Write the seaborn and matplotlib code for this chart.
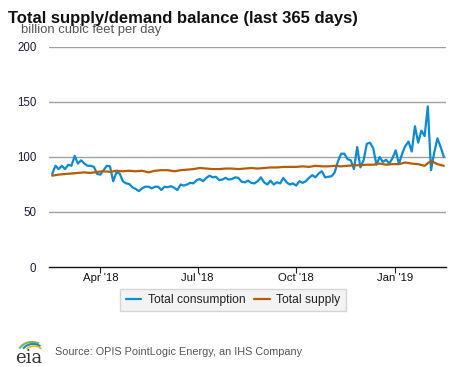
import numpy as np
import pandas as pd
import seaborn as sns
import matplotlib.pyplot as plt
import matplotlib.dates as mdates
from matplotlib.patches import Arc

# consumption, read every 3 days starting 2018-02-15 (bcf/d)
consumption = [84.5, 92, 89, 92, 89, 93, 92, 101, 94, 97,
               94, 92, 92, 91, 84.5, 84, 88, 92, 91.5, 78,
               86, 85, 78, 76, 75.5, 72.4, 71, 69, 71.5, 73,
               73, 71.5, 73, 73, 70, 73, 72.5, 73.5, 72, 70,
               75, 74, 75, 76.5, 76, 79, 80, 78, 81, 83,
               81.5, 82, 79, 79.5, 81, 79.5, 80, 81.5, 81, 77.5,
               77, 78.5, 76.5, 76, 78, 81.5, 77, 75, 78.5, 75,
               77, 76, 81, 77, 75, 76, 74, 78, 76.5, 78,
               81, 83.5, 81.5, 85, 87, 81.5, 82, 82.5, 86, 96,
               103, 103, 98, 97, 89, 109, 90.6, 97, 112, 113,
               108, 93, 100, 95.5, 97.5, 94, 99, 106, 93.6, 103,
               110, 114, 105, 128, 113, 124, 119, 146, 88, 104,
               117, 109, 100]

# supply, read every 6 days starting 2018-02-15 (bcf/d)
supply = [83, 84, 84.5, 85, 85.5, 86, 85.5, 86.5, 87, 86.5,
          87.5, 87, 87.5, 87, 87.5, 86, 87.5, 88, 88, 87,
          88, 88.5, 89, 90, 89.5, 89, 89, 89.5, 89.5, 89,
          89.5, 90, 89.5, 90, 90.5, 90.5, 91, 91, 91, 91.5,
          91, 92, 91.5, 91.5, 92, 91.5, 92, 92.5, 92.5, 93,
          93, 94, 93, 93.5, 93.5, 95, 94, 93.5, 92, 96.5,
          93.5, 92]

cons_dates = pd.date_range("2018-02-15", periods=len(consumption), freq="3D")
sup_dates = pd.date_range("2018-02-15", periods=len(supply), freq="6D")

df = pd.concat([
    pd.DataFrame({"date": cons_dates, "value": consumption, "series": "Total consumption"}),
    pd.DataFrame({"date": sup_dates, "value": supply, "series": "Total supply"}),
])

colors = {"Total consumption": "#0a8bd3", "Total supply": "#b65c06"}
y_ticks = [0, 50, 100, 150, 200]
x_ticks = ["2018-04-01", "2018-07-01", "2018-10-01", "2019-01-01"]
x_labels = ["Apr '18", "Jul '18", "Oct '18", "Jan '19"]

sns.set_style("white")
plt.rcParams['font.family'] = ['Liberation Sans', 'DejaVu Sans']

fig = plt.figure(figsize=(4.77, 3.67), dpi=100)
ax = fig.add_axes([49 / 477, 1 - 267 / 367, 397 / 477, 220 / 367])

sns.lineplot(data=df, x="date", y="value", hue="series", palette=colors,
             linewidth=1.6, ax=ax, legend=False)

ax.set_ylim(0, 200)
ax.set_xlim(pd.Timestamp("2018-02-12"), pd.Timestamp("2019-02-18"))
ax.set_yticks(y_ticks)
ax.set_yticklabels([str(v) for v in y_ticks], fontsize=8.3, color="#1a1a3a")
ax.set_xticks(pd.to_datetime(x_ticks))
ax.set_xticklabels(x_labels, fontsize=8.2, color="#111111")
ax.tick_params(axis="y", length=0, pad=9)
ax.tick_params(axis="x", length=4, width=0.8, color="#222222", direction="out", pad=0.5, bottom=True)
ax.set_xlabel("")
ax.set_ylabel("")
for v in y_ticks[1:]:
    ax.axhline(v, color="#a0a0a0", lw=1.0, zorder=0)
for s in ["left", "right", "top"]:
    ax.spines[s].set_visible(False)
ax.spines["bottom"].set_color("#111111")
ax.spines["bottom"].set_linewidth(1.0)

fig.text(8 / 477, 1 - 18 / 367, "Total supply/demand balance (last 365 days)",
         fontsize=12, fontweight="bold", va="center", ha="left", color="#111111")
fig.text(21 / 477, 1 - 30 / 367, "billion cubic feet per day",
         fontsize=9.4, va="center", ha="left", color="#555555")

handles = [plt.Line2D([], [], color=colors[k], lw=1.6) for k in colors]
leg = fig.legend(handles, list(colors.keys()), loc="center",
                 bbox_to_anchor=(233 / 477, 1 - 300 / 367), ncol=2,
                 fontsize=8.7, frameon=True, fancybox=False,
                 handlelength=1.3, handletextpad=0.5, columnspacing=0.75,
                 borderpad=0.45, borderaxespad=0)
leg.get_frame().set_facecolor("#f0f0f0")
leg.get_frame().set_edgecolor("#cccccc")
for t in leg.get_texts():
    t.set_color("#222222")

fig.text(55 / 477, 1 - 352 / 367, "Source: OPIS PointLogic Energy, an IHS Company",
         fontsize=7.85, va="center", ha="left", color="#555555")

# small eia logo
logo = fig.add_axes([12 / 477, 1 - 364 / 367, 34 / 477, 30 / 367])
logo.set_xlim(0, 34)
logo.set_ylim(0, 30)
logo.axis("off")
logo.text(17, 6, "eia", fontsize=13, family="DejaVu Serif", ha="center", va="center", color="#333333")
logo.add_patch(Arc((20, 8), 30, 28, theta1=60, theta2=150, color="#7ab648", lw=1.5))
logo.add_patch(Arc((21, 7), 26, 26, theta1=55, theta2=140, color="#1e88c8", lw=1.5))
logo.add_patch(Arc((22, 6), 22, 24, theta1=50, theta2=130, color="#f2b41c", lw=1.2))

fig.savefig("out.png", dpi=100)
